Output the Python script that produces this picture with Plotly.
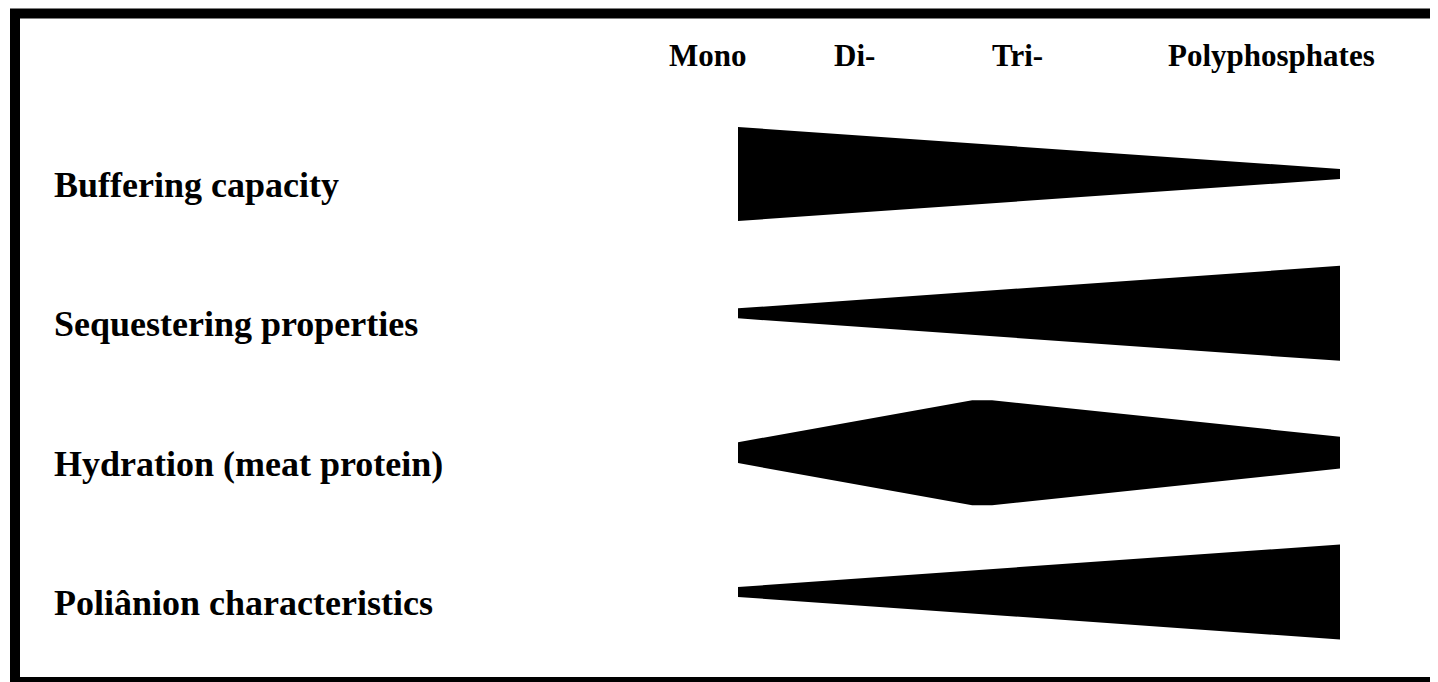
import plotly.graph_objects as go

# ---- data ----
headers = ["Mono", "Di-", "Tri-", "Polyphosphates"]
header_pos = [-5.0, 19.4, 46.5, 88.6]          # position along the phosphate axis (0-100 = wedge span)

rows = ["Buffering capacity", "Sequestering properties",
        "Hydration (meat protein)", "Poliânion characteristics"]

# breakpoints along the axis (0 = Mono end, 100 = Polyphosphate end) and relative magnitude there
buffer_x = [0, 100]
buffer_w = [0.99, 0.105]
seq_x = [0, 100]
seq_w = [0.105, 1.0]
hyd_x = [0, 38.9, 42.2, 100]
hyd_w = [0.22, 1.105, 1.105, 0.335]
poly_x = [0, 100]
poly_w = [0.105, 1.0]

series = [(buffer_x, buffer_w), (seq_x, seq_w), (hyd_x, hyd_w), (poly_x, poly_w)]

# ---- style ----
W, H = 1438, 682
OFF = 8                       # page margin offset
FONT = "Liberation Serif"
PXU = 6.02                    # px per x unit
ROW = 139.33                  # px per row
THICK = 95 / ROW              # row units per unit magnitude
X0 = 738 - OFF
Y0 = 174 - OFF
XR = [-X0 / PXU, (W - X0) / PXU]
YR = [(H - Y0) / ROW, -Y0 / ROW]

fig = go.Figure()
for i, (xs, ws) in enumerate(series):
    upper = [i - w * THICK / 2 for w in ws]
    lower = [i + w * THICK / 2 for w in ws]
    fig.add_trace(go.Scatter(
        x=list(xs) + list(xs)[::-1],
        y=upper + lower[::-1],
        fill="toself", fillcolor="black", mode="lines",
        line=dict(width=0, color="black"), hoverinfo="skip", showlegend=False))

for h, xp in zip(headers, header_pos):
    fig.add_annotation(x=xp, y=(55 - 174) / ROW, xref="x", yref="y",
                       text="<b>%s</b>" % h, showarrow=False, xanchor="center", yanchor="middle",
                       font=dict(family=FONT, size=31, color="black"))

for i, r in enumerate(rows):
    fig.add_annotation(x=(55 - OFF - 3) / W, xref="paper", y=i + 11 / ROW, yref="y",
                       text="<b>%s</b>" % r, showarrow=False, xanchor="left", yanchor="middle",
                       font=dict(family=FONT, size=36, color="black"))

fig.add_shape(type="rect", xref="paper", yref="paper",
              x0=(15 - OFF) / W, x1=1.05, y0=(OFF) / H, y1=1 - (13.5 - OFF) / H,
              line=dict(color="black", width=10), fillcolor="rgba(0,0,0,0)", layer="above")

fig.update_layout(
    width=W, height=H, margin=dict(l=0, r=0, t=0, b=0),
    paper_bgcolor="white", plot_bgcolor="white",
    xaxis=dict(range=XR, visible=False, fixedrange=True),
    yaxis=dict(range=YR, visible=False, fixedrange=True),
)
fig.write_html("out.html")
